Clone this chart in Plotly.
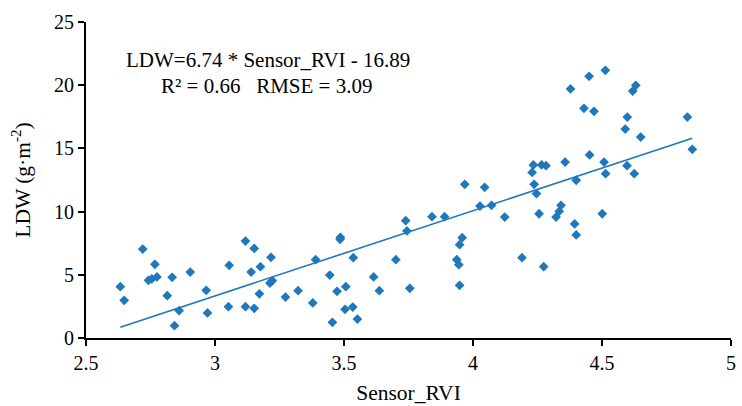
import plotly.graph_objects as go

# Sensor RVI readings and measured leaf dry weight
sensor_rvi = [
    2.633, 2.648, 2.720, 2.767, 2.742, 2.755, 2.775, 2.834, 2.815, 2.861,
    2.843, 2.904, 2.966, 2.971, 3.055, 3.052, 3.118, 3.152, 3.140, 3.176,
    3.217, 3.213, 3.222, 3.172, 3.118, 3.152, 3.273, 3.322, 3.379, 3.390,
    3.455, 3.445, 3.473, 3.486, 3.485, 3.507, 3.504, 3.534, 3.552, 3.536,
    3.615, 3.637, 3.701, 3.744, 3.739, 3.755, 3.841, 3.890, 3.958, 3.948,
    3.937, 3.945, 3.948, 3.968, 4.045, 4.027, 4.072, 4.123, 4.190, 4.234,
    4.229, 4.266, 4.283, 4.237, 4.246, 4.256, 4.274, 4.357, 4.341, 4.334,
    4.322, 4.400, 4.394, 4.400, 4.452, 4.508, 4.514, 4.501, 4.378, 4.450,
    4.513, 4.430, 4.469, 4.619, 4.631, 4.598, 4.590, 4.650, 4.831, 4.850,
    4.597, 4.625,
]
ldw = [
    4.06, 2.98, 7.04, 5.83, 4.56, 4.67, 4.83, 4.80, 3.35, 2.16,
    0.97, 5.22, 3.77, 1.98, 5.75, 2.48, 7.67, 7.09, 5.22, 5.64,
    6.38, 4.35, 4.53, 3.50, 2.48, 2.35, 3.24, 3.74, 2.77, 6.20,
    1.24, 4.98, 3.69, 7.97, 7.81, 4.06, 2.27, 2.45, 1.50, 6.35,
    4.83, 3.74, 6.20, 8.47, 9.28, 3.93, 9.60, 9.60, 7.94, 7.38,
    6.20, 5.80, 4.17, 12.16, 11.92, 10.44, 10.50, 9.57, 6.35, 13.69,
    13.10, 13.69, 13.63, 12.16, 11.42, 9.83, 5.64, 13.92, 10.50, 10.02,
    9.57, 12.48, 9.02, 8.15, 14.48, 13.92, 13.00, 9.83, 19.70, 20.70,
    21.18, 18.17, 17.93, 19.54, 19.99, 17.48, 16.53, 15.90, 17.48, 14.93,
    13.63, 13.00,
]

# Linear fit: LDW = slope * Sensor_RVI + intercept
slope = 6.74
intercept = -16.89
r2 = 0.66
rmse = 3.09

x_ticks = [2.5, 3, 3.5, 4, 4.5, 5]
x_tick_text = ["2.5", "3", "3.5", "4", "4.5", "5"]
y_ticks = [0, 5, 10, 15, 20, 25]

blue = "#1f77bc"
font_family = "Liberation Serif, Times New Roman, serif"

fit_x = [min(sensor_rvi), max(sensor_rvi)]
fit_y = [slope * v + intercept for v in fit_x]

fig = go.Figure()
fig.add_trace(go.Scatter(
    x=sensor_rvi, y=ldw, mode="markers",
    marker=dict(symbol="diamond", size=7.5, color=blue, line=dict(width=0)),
    showlegend=False,
))
fig.add_trace(go.Scatter(
    x=fit_x, y=fit_y, mode="lines",
    line=dict(color=blue, width=1.6),
    showlegend=False,
))

nb = "\u00a0"
fig.add_annotation(
    x=3.206, y=22.0, xref="x", yref="y", showarrow=False,
    text=f"LDW={slope:.2f} * Sensor_RVI - {abs(intercept):.2f}",
    font=dict(family=font_family, size=21, color="black"),
    xanchor="center", yanchor="middle",
)
fig.add_annotation(
    x=3.198, y=19.94, xref="x", yref="y", showarrow=False,
    text=f"R² = {r2:.2f}{nb*3}RMSE = {rmse:.2f}",
    font=dict(family=font_family, size=21, color="black"),
    xanchor="center", yanchor="middle",
)

fig.update_layout(
    width=742, height=406,
    margin=dict(l=86, r=11, t=22, b=68),
    paper_bgcolor="white", plot_bgcolor="white",
    font=dict(family=font_family, size=20, color="black"),
    xaxis=dict(
        range=[2.5, 5], tickvals=x_ticks, ticktext=x_tick_text,
        showgrid=False, zeroline=False, automargin=False,
        showline=True, linecolor="black", linewidth=2,
        ticks="outside", ticklen=6, tickwidth=1.5, tickcolor="black",
        tickfont=dict(size=20),
        title=dict(text="Sensor_RVI", standoff=12, font=dict(size=21.5)),
    ),
    yaxis=dict(
        range=[0, 25], tickvals=y_ticks,
        showgrid=False, zeroline=False, automargin=False,
        showline=True, linecolor="black", linewidth=2,
        ticks="outside", ticklen=6, tickwidth=1.5, tickcolor="black",
        tickfont=dict(size=20),
        title=dict(text="LDW (g·m<sup>-2</sup>)", standoff=17, font=dict(size=21.5)),
    ),
)

fig.write_html("out.html")
